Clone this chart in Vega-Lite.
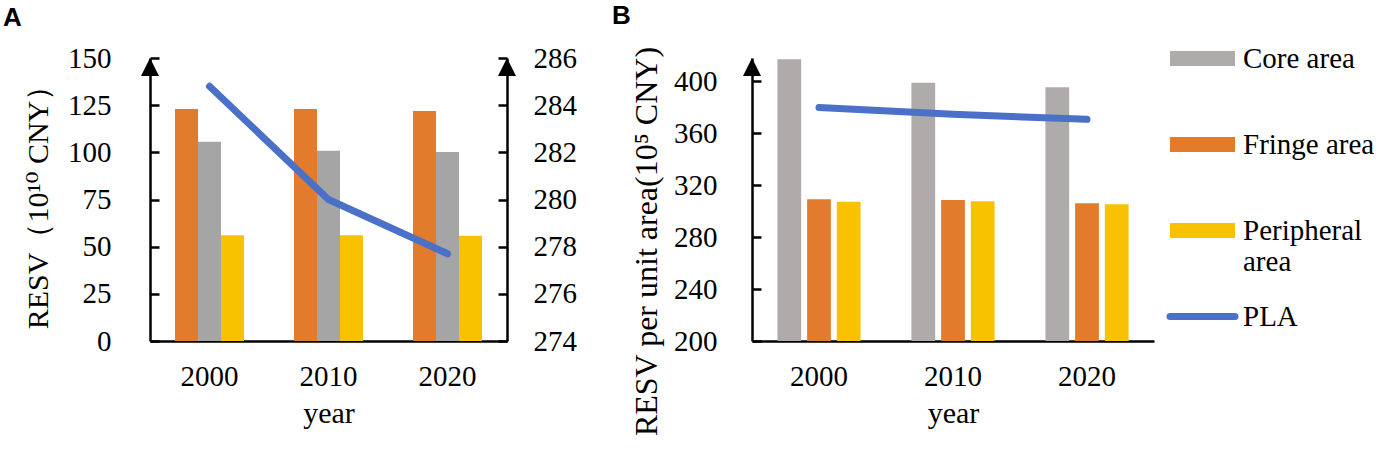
{
  "$schema": "https://vega.github.io/schema/vega-lite/v6.json",
  "background": "white",
  "padding": {"left": 3, "top": 3, "right": 0, "bottom": 0},
  "bounds": "flush",
  "config": {
    "font": "Liberation Serif",
    "view": {"stroke": null},
    "axis": {
      "labelFont": "Liberation Serif",
      "titleFont": "Liberation Serif, DejaVu Serif",
      "labelColor": "black",
      "titleColor": "black",
      "domainColor": "black",
      "tickColor": "black",
      "grid": false,
      "labelFontSize": 29,
      "titleFontSize": 30,
      "titleFontWeight": "normal",
      "domainWidth": 2.5,
      "tickWidth": 2.5
    },
    "title": {"font": "Liberation Sans", "fontSize": 26, "fontWeight": "bold", "color": "black", "anchor": "start", "frame": "group"}
  },
  "datasets": {
    "a_bars": [
      {"year": "2000", "zone": "Fringe area", "value": 123},
      {"year": "2000", "zone": "Core area", "value": 105.6},
      {"year": "2000", "zone": "Peripheral area", "value": 56},
      {"year": "2010", "zone": "Fringe area", "value": 123},
      {"year": "2010", "zone": "Core area", "value": 100.9},
      {"year": "2010", "zone": "Peripheral area", "value": 56},
      {"year": "2020", "zone": "Fringe area", "value": 121.9},
      {"year": "2020", "zone": "Core area", "value": 100.2},
      {"year": "2020", "zone": "Peripheral area", "value": 55.8}
    ],
    "a_pla": [
      {"year": "2000", "value": 284.8},
      {"year": "2010", "value": 280.0},
      {"year": "2020", "value": 277.7}
    ],
    "b_bars": [
      {"year": "2000", "zone": "Core area", "value": 417},
      {"year": "2000", "zone": "Fringe area", "value": 309.2},
      {"year": "2000", "zone": "Peripheral area", "value": 307.2},
      {"year": "2010", "zone": "Core area", "value": 399},
      {"year": "2010", "zone": "Fringe area", "value": 308.7},
      {"year": "2010", "zone": "Peripheral area", "value": 307.7},
      {"year": "2020", "zone": "Core area", "value": 395.4},
      {"year": "2020", "zone": "Fringe area", "value": 306.2},
      {"year": "2020", "zone": "Peripheral area", "value": 305.4}
    ],
    "b_pla": [
      {"year": "2000", "value": 379.8},
      {"year": "2010", "value": 374.6},
      {"year": "2020", "value": 370.8}
    ]
  },
  "spacing": 245,
  "resolve": {
    "scale": {"color": "independent", "xOffset": "independent", "x": "independent", "y": "independent"},
    "legend": {"color": "independent"}
  },
  "hconcat": [
    {
      "width": 357,
      "height": 283,
      "title": {"text": "A", "dx": -147, "offset": 13},
      "layer": [
        {
          "layer": [
            {
              "data": {"name": "a_bars"},
              "mark": {"type": "bar"},
              "encoding": {
                "x": {
                  "field": "year", "type": "ordinal", "title": "year",
                  "scale": {"paddingInner": 0.42, "paddingOuter": 0.21},
                  "axis": {"labelAngle": 0, "ticks": false, "labelPadding": 21, "titlePadding": 7}
                },
                "xOffset": {
                  "field": "zone", "type": "nominal",
                  "sort": ["Fringe area", "Core area", "Peripheral area"],
                  "scale": {"paddingInner": 0, "paddingOuter": 0}
                },
                "y": {
                  "field": "value", "type": "quantitative", "title": "RESV（10¹⁰ CNY）",
                  "scale": {"domain": [0, 150], "nice": false},
                  "axis": {"values": [0, 25, 50, 75, 100, 125, 150], "tickSize": -9, "labelPadding": 48, "titlePadding": 14}
                },
                "color": {
                  "field": "zone", "type": "nominal",
                  "scale": {"domain": ["Core area", "Fringe area", "Peripheral area"], "range": ["#A5A5A5", "#E37B2D", "#F9C200"]},
                  "legend": null
                }
              }
            },
            {
              "data": {"values": [{}]},
              "mark": {"type": "point", "shape": "M0,0L0.5,1L-0.5,1Z", "size": 1296, "filled": true, "color": "black", "opacity": 1},
              "encoding": {"x": {"value": 0}, "y": {"datum": 150}}
            }
          ]
        },
        {
          "layer": [
            {
              "data": {"name": "a_pla"},
              "mark": {"type": "line", "color": "#4A70C7", "strokeWidth": 7, "strokeCap": "round"},
              "encoding": {
                "x": {"field": "year", "type": "ordinal"},
                "y": {
                  "field": "value", "type": "quantitative",
                  "scale": {"domain": [274, 286], "nice": false},
                  "axis": {"orient": "right", "values": [274, 276, 278, 280, 282, 284, 286], "title": null, "tickSize": -9, "labelPadding": 35}
                }
              }
            },
            {
              "data": {"values": [{}]},
              "mark": {"type": "point", "shape": "M0,0L0.5,1L-0.5,1Z", "size": 1296, "filled": true, "color": "black", "opacity": 1},
              "encoding": {"x": {"value": 357}, "y": {"datum": 286}}
            }
          ]
        }
      ],
      "resolve": {"scale": {"y": "independent"}}
    },
    {
      "width": 402,
      "height": 283,
      "title": {"text": "B", "dx": -140, "offset": 15},
      "layer": [
        {
          "data": {"name": "b_bars"},
          "mark": {"type": "bar"},
          "encoding": {
            "x": {
              "field": "year", "type": "ordinal", "title": "year",
              "scale": {"paddingInner": 0.335, "paddingOuter": 0.1675},
              "axis": {"labelAngle": 0, "ticks": false, "labelPadding": 21, "titlePadding": 7}
            },
            "xOffset": {
              "field": "zone", "type": "nominal",
              "sort": ["Core area", "Fringe area", "Peripheral area"],
              "scale": {"paddingInner": 0.2, "paddingOuter": 0.1}
            },
            "y": {
              "field": "value", "type": "quantitative", "title": "RESV per unit area(10⁵ CNY)",
              "scale": {"domain": [200, 418], "nice": false, "zero": false, "clamp": true},
              "axis": {"values": [200, 240, 280, 320, 360, 400], "tickSize": -9, "labelPadding": 44, "titlePadding": 10, "titleFontSize": 32, "titleY": 183}
            },
            "color": {
              "field": "zone", "type": "nominal",
              "scale": {"domain": ["Core area", "Fringe area", "Peripheral area", "PLA"], "range": ["#AFABAB", "#E37B2D", "#F9C200", "#4A70C7"]},
              "legend": {
                "orient": "none",
                "legendX": 436,
                "legendY": -14,
                "title": null,
                "padding": 0,
                "symbolSize": 4225,
                "symbolStrokeWidth": 0,
                "labelFont": "Liberation Serif",
                "labelFontSize": 29,
                "labelColor": "black",
                "labelOffset": 26,
                "rowPadding": 25,
                "labelLimit": 300,
                "labelExpr": "datum.value === 'Peripheral area' ? ['Peripheral', 'area'] : [datum.label, '']",
                "encode": {
                  "symbols": {
                    "update": {
                      "shape": {"signal": "datum.value === 'PLA' ? 'M-1,0L1,0' : 'M-1,-0.23L1,-0.23L1,0.23L-1,0.23Z'"},
                      "stroke": {"signal": "datum.value === 'PLA' ? '#4A70C7' : 'transparent'"},
                      "strokeWidth": {"signal": "datum.value === 'PLA' ? 7 : 0"},
                      "strokeCap": {"value": "round"},
                      "opacity": {"value": 1},
                      "fillOpacity": {"value": 1}
                    }
                  },
                  "labels": {
                    "update": {
                      "font": {"value": "Liberation Serif"},
                      "fontSize": {"value": 29},
                      "fill": {"value": "black"},
                      "lineHeight": {"value": 31}
                    }
                  }
                }
              }
            }
          }
        },
        {
          "data": {"name": "b_pla"},
          "mark": {"type": "line", "color": "#4A70C7", "strokeWidth": 7, "strokeCap": "round", "interpolate": "monotone"},
          "encoding": {
            "x": {"field": "year", "type": "ordinal"},
            "y": {"field": "value", "type": "quantitative"}
          }
        },
        {
          "data": {"values": [{}]},
          "mark": {"type": "point", "shape": "M0,0L0.5,1L-0.5,1Z", "size": 1296, "filled": true, "color": "black", "opacity": 1},
          "encoding": {"x": {"value": 0}, "y": {"datum": 418}}
        }
      ]
    }
  ]
}
